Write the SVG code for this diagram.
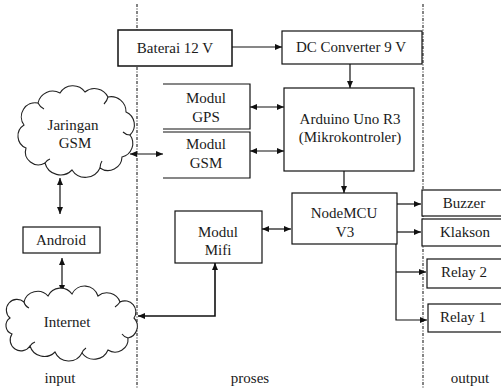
<svg xmlns="http://www.w3.org/2000/svg" width="501" height="389" viewBox="0 0 501 389">
<defs>
<marker id="ah" viewBox="0 0 10 10" refX="10" refY="5" markerWidth="7" markerHeight="6" markerUnits="userSpaceOnUse" orient="auto-start-reverse" preserveAspectRatio="none">
<path d="M0,0 L10,5 L0,10 z" fill="#111"/>
</marker>
</defs>
<style>
.bg{fill:#fff}
.sep{stroke:#333;stroke-width:1.2;stroke-dasharray:3 1.5 1 1.5;fill:none}
.box{fill:#fff;stroke:#111;stroke-width:1.2}
.open{fill:#fff;stroke:#111;stroke-width:1.2}
.cloud{fill:#fff;stroke:#222;stroke-width:1.1}
.curl{fill:none;stroke:#222;stroke-width:1.1}
.c{fill:none;stroke:#111;stroke-width:1.2}
.t{font-family:'Liberation Serif','Times New Roman',Times,serif;font-size:15px;fill:#1a1a1a;text-anchor:middle}
</style>
<rect class="bg" x="0" y="0" width="501" height="389"/>
<g id="separators">
<line class="sep" x1="137" y1="4" x2="137" y2="389"/>
<line class="sep" x1="423" y1="4" x2="423" y2="389"/>
</g>
<g id="connectors">
<line class="c" x1="232" y1="47" x2="282" y2="47" marker-end="url(#ah)"/>
<line class="c" x1="350" y1="64" x2="350" y2="88" marker-end="url(#ah)"/>
<line class="c" x1="250" y1="107" x2="284" y2="107" marker-start="url(#ah)" marker-end="url(#ah)"/>
<line class="c" x1="250" y1="151" x2="284" y2="151" marker-start="url(#ah)" marker-end="url(#ah)"/>
<line class="c" x1="130" y1="154" x2="163" y2="154" marker-start="url(#ah)" marker-end="url(#ah)"/>
<line class="c" x1="60" y1="178" x2="60" y2="214" marker-start="url(#ah)" marker-end="url(#ah)"/>
<line class="c" x1="62" y1="258" x2="62" y2="292" marker-start="url(#ah)" marker-end="url(#ah)"/>
<polyline class="c" style="stroke-width:1.6" points="215,263 215,316 138,316" marker-start="url(#ah)" marker-end="url(#ah)"/>
<line class="c" x1="344" y1="171" x2="344" y2="193" marker-end="url(#ah)"/>
<line class="c" x1="262" y1="229" x2="291" y2="229" marker-start="url(#ah)" marker-end="url(#ah)"/>
<line class="c" x1="397" y1="204" x2="421" y2="204" marker-end="url(#ah)"/>
<line class="c" x1="397" y1="232" x2="421" y2="232" marker-end="url(#ah)"/>
<polyline class="c" points="396,244 396,320 427,320" marker-end="url(#ah)"/>
<line class="c" x1="396" y1="272" x2="426" y2="272" marker-end="url(#ah)"/>
</g>
<g id="baterai">
<rect class="box" style="stroke-width:1.5" x="118" y="30" width="114" height="36"/>
<text class="t" x="175" y="53" font-family="Liberation Serif, serif">Baterai 12 V</text>
</g>
<g id="dc-converter">
<rect class="box" x="282" y="31" width="140" height="33"/>
<text class="t" x="351" y="52">DC Converter 9 V</text>
</g>
<g id="arduino">
<rect class="box" x="284" y="88" width="130" height="83"/>
<text class="t" x="350" y="124">Arduino Uno R3</text>
<text class="t" x="350" y="142">(Mikrokontroler)</text>
</g>
<g id="modul-gps">
<path class="open" d="M163 84 H250 V129 H163"/>
<text class="t" x="206" y="103">Modul</text>
<text class="t" x="206" y="122">GPS</text>
</g>
<g id="modul-gsm">
<path class="open" d="M163 132 H250 V178 H163"/>
<text class="t" x="206" y="149">Modul</text>
<text class="t" x="206" y="168">GSM</text>
</g>
<g id="jaringan-gsm">
<path class="cloud" d="M24 125 A14 14 0 0 1 38 103 A15 15 0 0 1 60 93 A15 15 0 0 1 85 92 A15 15 0 0 1 108 97 A15 15 0 0 1 126 112 A14 14 0 0 1 130 135 A14 14 0 0 1 122 157 A14 14 0 0 1 100 168 A16 16 0 0 1 72 170 A16 16 0 0 1 45 163 A13 13 0 0 1 26 148 A13 13 0 0 1 24 125 Z"/>
<path class="curl" d="M38 103 q2 4 6 6 M108 97 q-1 4 -4 7 M130 135 q-4 0 -7 -3 M100 168 q0 -4 2 -7 M45 163 q2 -3 5 -4"/>
<text class="t" x="73" y="130">Jaringan</text>
<text class="t" x="75" y="148">GSM</text>
</g>
<g id="android">
<rect class="box" x="23" y="227" width="77" height="26"/>
<text class="t" x="61" y="245">Android</text>
</g>
<g id="internet">
<path class="cloud" d="M10 318 A10 10 0 0 1 24 302 A14 14 0 0 1 48 296 A14 14 0 0 1 72 294 A14 14 0 0 1 98 296 A14 14 0 0 1 120 302 A11 11 0 0 1 134 318 A12 12 0 0 1 128 338 A13 13 0 0 1 108 350 A15 15 0 0 1 82 353 A15 15 0 0 1 55 352 A15 15 0 0 1 30 346 A10 10 0 0 1 12 334 A9 9 0 0 1 10 318 Z"/>
<path class="curl" d="M24 302 q1 4 5 6 M120 302 q-2 3 -5 5 M128 338 q-4 -1 -6 -4 M82 353 q1 -3 4 -5 M30 346 q2 -3 5 -4"/>
<text class="t" x="67" y="327">Internet</text>
</g>
<g id="modul-mifi">
<rect class="box" x="175" y="211" width="87" height="52"/>
<text class="t" x="218" y="237">Modul</text>
<text class="t" x="218" y="255">Mifi</text>
</g>
<g id="nodemcu">
<rect class="box" x="292" y="193" width="105" height="51"/>
<text class="t" x="344" y="218">NodeMCU</text>
<text class="t" x="345" y="237">V3</text>
</g>
<g id="buzzer">
<rect class="box" x="422" y="190" width="81" height="26"/>
<text class="t" x="464" y="208">Buzzer</text>
</g>
<g id="klakson">
<rect class="box" x="422" y="219" width="81" height="27"/>
<text class="t" x="465" y="237">Klakson</text>
</g>
<g id="relay2">
<rect class="box" x="427" y="259" width="76" height="29"/>
<text class="t" x="464" y="277">Relay 2</text>
</g>
<g id="relay1">
<rect class="box" x="428" y="304" width="75" height="28"/>
<text class="t" x="463" y="322">Relay 1</text>
</g>
<g id="labels">
<text class="t" x="60" y="383">input</text>
<text class="t" x="250" y="383">proses</text>
<text class="t" x="470" y="383">output</text>
</g>
</svg>
